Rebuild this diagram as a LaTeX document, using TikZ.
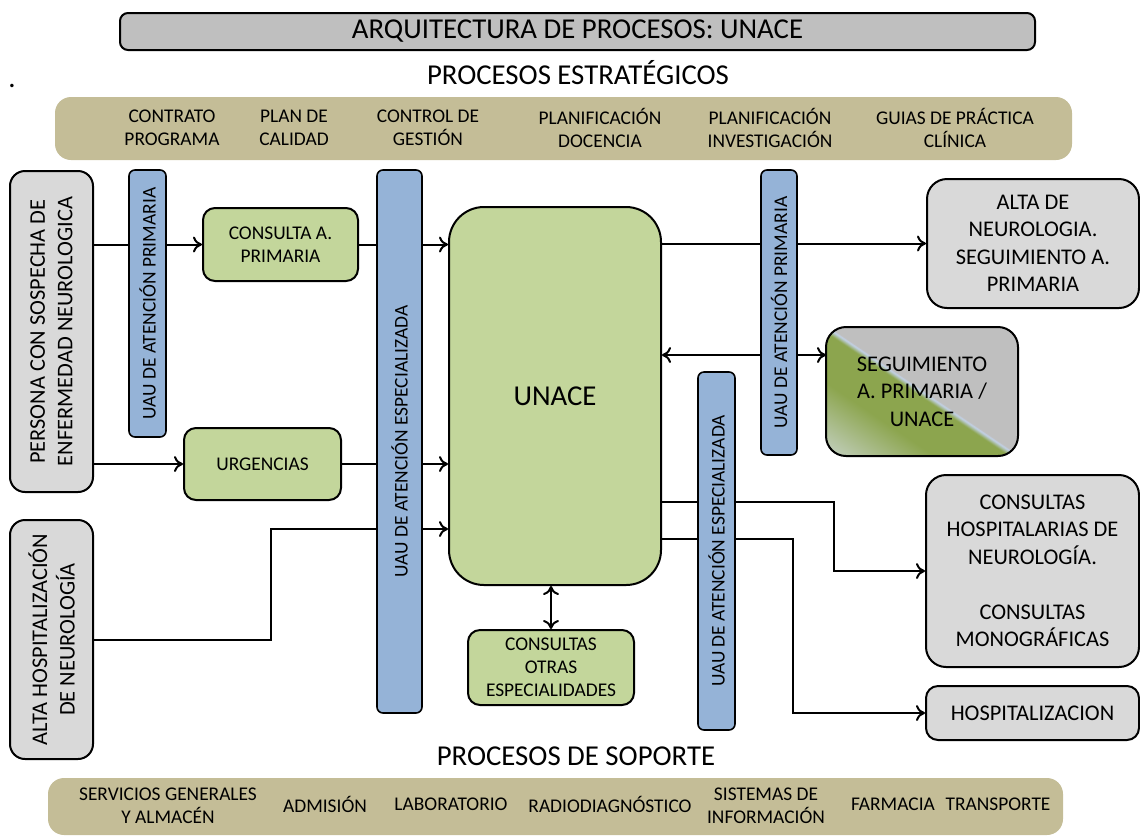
\documentclass[tikz,border=0pt]{standalone}
\usepackage{fontspec}
\setmainfont{Carlito}
\usetikzlibrary{arrows.meta}

\definecolor{titlegray}{RGB}{191,191,191}
\definecolor{boxgray}{RGB}{217,217,217}
\definecolor{unacegreen}{RGB}{195,214,155}
\definecolor{uaublue}{RGB}{149,179,215}
\definecolor{striptan}{RGB}{196,189,151}
\definecolor{seggreen}{RGB}{140,165,78}
\definecolor{segline}{RGB}{195,210,235}
\definecolor{segpale}{RGB}{215,223,232}

\pgfdeclarehorizontalshading{seguishade}{100bp}{color(0bp)=(titlegray); color(49.5bp)=(titlegray); color(50bp)=(segline); color(51.5bp)=(seggreen); color(65bp)=(seggreen); color(91bp)=(segpale); color(100bp)=(segpale)}

\newcommand{\smallfnt}{\fontsize{9.7}{11.5}\selectfont}
\newcommand{\boxfnt}{\fontsize{11.2}{13.75}\selectfont}
\newcommand{\headfnt}{\fontsize{14.4}{17}\selectfont}

\tikzset{
  titlebox/.style={draw, line width=1pt, rounded corners=4pt, fill=titlegray, inner sep=0pt, font=\headfnt},
  heading/.style={anchor=base, inner sep=0pt, font=\headfnt},
  strip/.style={fill=striptan, rounded corners=8pt, inner sep=0pt},
  stripitem/.style={align=center, inner sep=0pt, font=\smallfnt},
  graybox/.style={draw, line width=1pt, fill=boxgray, align=center, inner sep=0pt, font=\boxfnt},
  greenbox/.style={draw, line width=1pt, fill=unacegreen, rounded corners=6pt, align=center, inner sep=0pt, font=\smallfnt},
  uaubar/.style={draw, line width=0.8pt, fill=uaublue, rounded corners=3pt, rotate=90, inner sep=0pt, font=\smallfnt},
  flow/.style={line width=1pt, ->},
  >={To[length=4.5pt,width=8pt]}
}

\begin{document}
\begin{tikzpicture}[x=0.5pt, y=-0.5pt, text=black]
    \useasboundingbox (0,0) rectangle (1140,837);

    % title and strategic processes
    \node[titlebox, minimum width=457.5pt, minimum height=18.5pt] (title) at (577.5,31.5) {ARQUITECTURA DE PROCESOS: UNACE};
    \node[heading] (estrat) at (578,84) {PROCESOS ESTRATÉGICOS};
    \node[inner sep=0pt, font=\headfnt] (dot) at (12,86) {.};

    \node[strip, minimum width=508.5pt, minimum height=31.5pt] (topstrip) at (563.5,128.5) {};
    \node[stripitem] (contrato) at (172,127.5) {CONTRATO\\PROGRAMA};
    \node[stripitem] (calidad) at (294,127.5) {PLAN DE\\CALIDAD};
    \node[stripitem] (gestion) at (428,127.5) {CONTROL DE\\GESTIÓN};
    \node[stripitem] (docencia) at (600,127.5) {PLANIFICACIÓN\\DOCENCIA};
    \node[stripitem] (investig) at (770,127.5) {PLANIFICACIÓN\\INVESTIGACIÓN};
    \node[stripitem] (guias) at (955,127.5) {GUIAS DE PRÁCTICA\\CLÍNICA};

    % entries
    \node[graybox, rounded corners=7.5pt, rotate=90, minimum width=160.5pt, minimum height=41.5pt] (persona) at (51.5,331.5) {PERSONA CON SOSPECHA DE\\ENFERMEDAD NEUROLOGICA};
    \node[graybox, rounded corners=7.5pt, rotate=90, minimum width=119.5pt, minimum height=41.5pt] (altahosp) at (51.5,639.5) {ALTA HOSPITALIZACIÓN\\DE NEUROLOGÍA};

    \node[greenbox, minimum width=77.5pt, minimum height=36.5pt] (consulta) at (280.5,244.5) {CONSULTA A.\\PRIMARIA};
    \node[greenbox, minimum width=78.5pt, minimum height=36pt] (urgencias) at (262.5,464) {URGENCIAS};

    % unit
    \node[greenbox, rounded corners=17.5pt, font=\headfnt, minimum width=106pt, minimum height=189pt] (unace) at (555,396) {UNACE};
    \node[greenbox, minimum width=83pt, minimum height=37.5pt] (otras) at (551,667.5) {CONSULTAS\\OTRAS\\ESPECIALIDADES};

    % exits
    \node[graybox, rounded corners=10pt, minimum width=106pt, minimum height=64.5pt] (altaneuro) at (1033,243.5) {ALTA DE\\NEUROLOGIA.\\SEGUIMIENTO A.\\PRIMARIA};
    \node[graybox, rounded corners=10pt, shade, shading=seguishade, shading angle=236, minimum width=96pt, minimum height=64.5pt] (seguim) at (922,391.5) {SEGUIMIENTO\\A. PRIMARIA /\\UNACE};
    \node[graybox, rounded corners=10pt, minimum width=106.5pt, minimum height=96pt] (conshosp) at (1032.5,571) {CONSULTAS\\HOSPITALARIAS DE\\NEUROLOGÍA.\\[13.75pt]CONSULTAS\\MONOGRÁFICAS};
    \node[graybox, rounded corners=6pt, minimum width=106.5pt, minimum height=27pt] (hosp) at (1032.5,713) {HOSPITALIZACION};

    % flows
    \draw[flow] (persona.south |- consulta.west) -- (consulta.west);
    \draw[flow] (consulta.east) -- (consulta.east -| unace.west);
    \draw[flow] (persona.south |- urgencias.west) -- (urgencias.west);
    \draw[flow] (urgencias.east) -- (urgencias.east -| unace.west);
    \coordinate (hospin) at (271,529);
    \draw[flow] (altahosp.south) -| (hospin) -- (hospin -| unace.west);

    \draw[flow] (unace.east |- altaneuro.west) -- (altaneuro.west);
    \coordinate (segin) at (826,355);
    \draw[flow, <->] (segin -| unace.east) -- (segin);
    \coordinate (consout) at (834,502);
    \draw[flow] (consout -| unace.east) -- (consout) |- (conshosp.west);
    \coordinate (hospout) at (793,539);
    \draw[flow] (hospout -| unace.east) -- (hospout) |- (hosp.west);
    \draw[flow, <->] (otras.north) -- (otras.north |- unace.south);

    % UAU bars over the flows
    \node[uaubar, minimum width=133.5pt, minimum height=18.5pt] (uauap1) at (147.5,303.5) {UAU DE ATENCIÓN PRIMARIA};
    \node[uaubar, minimum width=271.5pt, minimum height=22.5pt] (uauae1) at (399.5,441.5) {UAU DE ATENCIÓN ESPECIALIZADA};
    \node[uaubar, minimum width=142.5pt, minimum height=18pt] (uauap2) at (779,312.5) {UAU DE ATENCIÓN PRIMARIA};
    \node[uaubar, minimum width=179pt, minimum height=18.5pt] (uauae2) at (716.5,551) {UAU DE ATENCIÓN ESPECIALIZADA};

    % support processes
    \node[heading] (soporte) at (576,765) {PROCESOS DE SOPORTE};
    \node[strip, minimum width=507.5pt, minimum height=28.5pt] (botstrip) at (555.5,806.5) {};
    \node[stripitem] (servicios) at (168,806) {SERVICIOS GENERALES\\Y ALMACÉN};
    \node[stripitem] (admision) at (325,804) {ADMISIÓN};
    \node[stripitem] (laborat) at (451,804) {LABORATORIO};
    \node[stripitem] (radio) at (610,804) {RADIODIAGNÓSTICO};
    \node[stripitem] (sistemas) at (766,806) {SISTEMAS DE\\INFORMACIÓN};
    \node[stripitem] (farmacia) at (893,804) {FARMACIA};
    \node[stripitem] (transporte) at (998,804) {TRANSPORTE};
\end{tikzpicture}
\end{document}
